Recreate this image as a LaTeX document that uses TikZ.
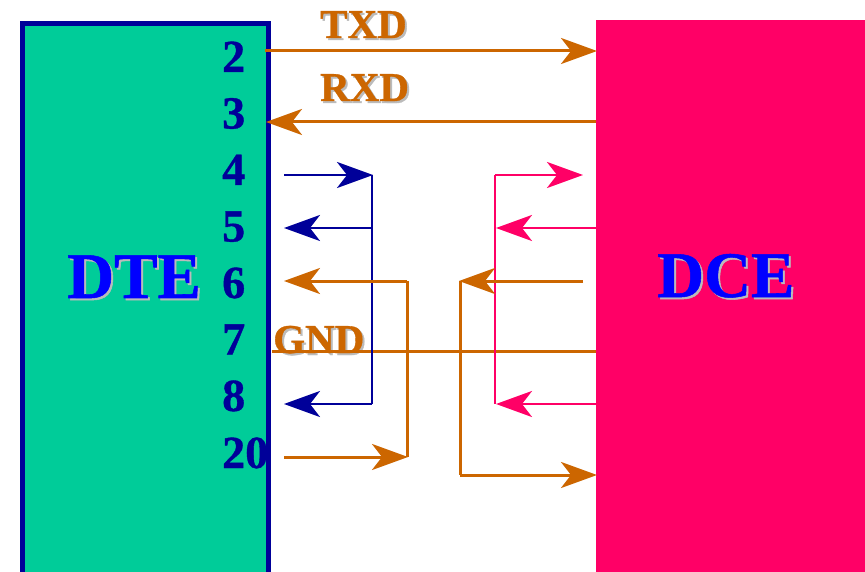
\documentclass[tikz,border=0pt]{standalone}
\usepackage{fontspec}
\setmainfont[BoldFeatures={FakeBold=0.8}]{Liberation Serif}
\usetikzlibrary{arrows.meta}
\definecolor{tealfill}{HTML}{00CC99}
\definecolor{navy}{HTML}{000099}
\definecolor{pinkfill}{HTML}{FF0066}
\definecolor{ochre}{HTML}{CC6600}
\definecolor{brightblue}{HTML}{0000FF}
\definecolor{shadowgrey}{HTML}{BBBBBB}
\newcommand{\shadowlabel}[5]{% name, x, y, style, text
  \node[#4,text=shadowgrey] at (#2+2,#3+2) {#5};
  \node[#4] (#1) at (#2,#3) {#5};}
\tikzset{
  x=1pt,y=-1pt,
  tip/.style={-{Stealth[length=36pt,width=26pt,inset=10pt]}},
  oline/.style={draw=ochre,line width=3pt},
  bline/.style={draw=navy,line width=2.8pt},
  pline/.style={draw=pinkfill,line width=2.8pt},
  pinnum/.style={anchor=base west,inner sep=0pt,text=navy,font=\fontsize{46}{46}\selectfont\bfseries},
  siglabel/.style={anchor=base west,inner sep=0pt,text=ochre,font=\fontsize{41}{41}\selectfont\bfseries},
  devlabel/.style={anchor=base west,inner sep=0pt,text=brightblue,font=\fontsize{65}{65}\selectfont\bfseries},
}
\begin{document}
\begin{tikzpicture}
\useasboundingbox (0,0) rectangle (865,572);
\clip (0,0) rectangle (865,572);
\fill[white] (0,0) rectangle (865,572);
\draw[fill=tealfill,draw=navy,line width=5.5pt] (22.5,23.5) rectangle (268.5,585);
\fill[pinkfill] (596,20) rectangle (865,572);
% pin numbers
\node[pinnum] (p2) at (222,72) {2};
\node[pinnum] (p3) at (222,128.5) {3};
\node[pinnum] (p4) at (222,185) {4};
\node[pinnum] (p5) at (222,241.5) {5};
\node[pinnum] (p6) at (222,298) {6};
\node[pinnum] (p7) at (222,354.5) {7};
\node[pinnum] (p8) at (222,411) {8};
\node[pinnum] (p20) at (222,468) {20};
% device and signal labels
\shadowlabel{dte}{67}{298}{devlabel}{DTE}
\shadowlabel{dce}{657}{297}{devlabel}{DCE}
\shadowlabel{txd}{320}{38}{siglabel}{TXD}
\shadowlabel{rxd}{320}{101}{siglabel}{RXD}
\shadowlabel{gnd}{273}{353}{siglabel}{GND}
% named ends
\foreach \n/\x/\y in {a1/265/51,a2/597/51,b1/596/122,b2/266/122,
  c1/284/175,c2/373/175,c3/372/404,c4/372/228,c5/284/228,c6/284/404,
  d1/407/281,d2/284/281,d3/408/457,d4/284/457,
  e1/495/175,e2/583/175,e3/495/404,e4/596/228,e5/496/228,e6/596/404,e7/496/404,
  f1/583/281,f2/459/281,f3/460/475,f4/597/475,
  g1/272/351,g2/596/351}
  \coordinate (\n) at (\x,\y);
% TXD RXD GND
\draw[oline,tip] (a1) -- (a2);
\draw[oline,tip] (b1) -- (b2);
\draw[oline] (g1) -- (g2);
% DTE side loops
\draw[bline,tip] (c1) -- (c2);
\draw[bline] (372,175) -- (c3);
\draw[bline,tip] (c4) -- (c5);
\draw[bline,tip] (c3) -- (c6);
\draw[oline,tip] (d1) -- (d2);
\draw[oline] (d1) -- (407,457);
\draw[oline,tip] (d4) -- (d3);
% DCE side loops
\draw[pline,tip] (e1) -- (e2);
\draw[pline] (e1) -- (e3);
\draw[pline,tip] (e4) -- (e5);
\draw[pline,tip] (e6) -- (e7);
\draw[oline,tip] (f1) -- (f2);
\draw[oline] (460,281) -- (f3);
\draw[oline,tip] (f3) -- (f4);
\end{tikzpicture}
\end{document}
